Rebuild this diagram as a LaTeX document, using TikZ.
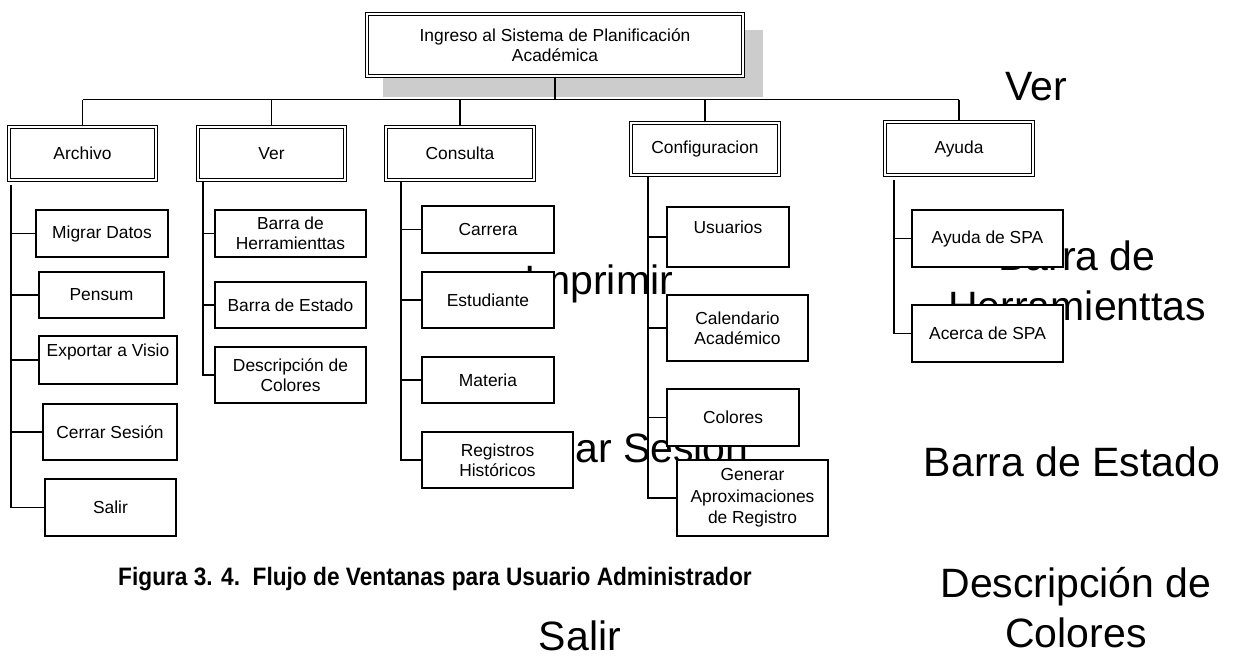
\documentclass[tikz,border=0pt]{standalone}
\usepackage{fontspec}
\setmainfont{Liberation Sans}
\newfontfamily\capfont[FakeStretch=0.9]{Liberation Sans}
\usetikzlibrary{positioning}

\tikzset{
  item/.style={draw, fill=white, line width=.55pt, inner sep=0pt, align=center,
    font=\fontsize{8.7}{10}\selectfont},
  menu/.style={item, double, double distance=.75pt},
  boxsize/.style 2 args={minimum width=#1*.5pt, minimum height=#2*.5pt},
  ghost/.style={inner sep=0pt, align=center, font=\fontsize{20.5}{25}\selectfont},
  link/.style={line width=.55pt}
}

\begin{document}
\begin{tikzpicture}[x=.5pt, y=-.5pt]
\useasboundingbox (0,0) rectangle (1237,664);

\node[fill=black!20, inner sep=0pt, boxsize={380}{67}] (shadow) at (573,63.5) {};

\node[ghost, anchor=base] (gver) at (1036,100) {Ver};
\node[ghost, anchor=base] (gimprimir) at (599,294) {Imprimir};
\node[ghost] (gherram) at (1077,281) {Barra de\\Herramienttas};
\node[ghost, anchor=base] (gcerrar) at (622,462) {Cerrar Sesión};
\node[ghost, anchor=base] (gestado) at (1072,476) {Barra de Estado};
\node[ghost] (gdescr) at (1076,608) {Descripción de\\Colores};
\node[ghost, anchor=base] (gsalir) at (580,650) {Salir};

\node[menu, boxsize={376}{62}] (ingreso) at (555,45) {Ingreso al Sistema de Planificación\\Académica};

\node[menu, boxsize={147}{53}] (archivo) at (82.5,153.5) {Archivo};
\node[menu, boxsize={147}{53}] (ver) at (271.5,153.5) {Ver};
\node[menu, boxsize={148}{53}] (consulta) at (460,153.5) {Consulta};
\node[menu, boxsize={148}{52}] (config) at (705,149) {Configuracion};
\node[menu, boxsize={148}{53}] (ayuda) at (959,148.5) {Ayuda};

\draw[link] (ingreso.south) -- ++(0,23) coordinate (hub);
\draw[link] (archivo.north |- hub) -- (ayuda.north |- hub);
\foreach \m in {archivo,ver,consulta,config,ayuda}
  \draw[link] (\m.north) -- (\m.north |- hub);

\coordinate (t1) at (11,185);
\coordinate (t2) at (203,182);
\coordinate (t3) at (401,182);
\coordinate (t4) at (648,177);
\coordinate (t5) at (894,180);

\node[item, boxsize={132}{47}] (migrar) at (102,233.5) {Migrar Datos};
\node[item, boxsize={125}{46}] (pensum) at (101.5,295) {Pensum};
\node[item, boxsize={138}{48}] (exportar) at (108,360) {Exportar a Visio\\\mbox{}};
\node[item, boxsize={134}{56}] (cerrar) at (110,432) {Cerrar Sesión};
\node[item, boxsize={131}{57}] (salir) at (110.5,507.5) {Salir};

\node[item, boxsize={151}{47}] (herram) at (290.5,233.5) {Barra de\\Herramienttas};
\node[item, boxsize={151}{46}] (estado) at (290.5,305) {Barra de Estado};
\node[item, boxsize={151}{56}] (descr) at (290.5,375) {Descripción de\\Colores};

\node[item, boxsize={132}{47}] (carrera) at (488,229.5) {Carrera};
\node[item, boxsize={132}{56}] (estudiante) at (488,300) {Estudiante};
\node[item, boxsize={132}{46}] (materia) at (488,380) {Materia};
\node[item, boxsize={151}{56}] (registros) at (497.5,460) {Registros\\Históricos};

\node[item, boxsize={122}{60}] (usuarios) at (728,237) {Usuarios\\\mbox{}};
\node[item, boxsize={141}{66}] (calendario) at (737.5,328) {Calendario\\Académico};
\node[item, boxsize={132}{57}] (colores) at (733,417.5) {Colores};
\node[item, boxsize={151}{76}, font=\fontsize{8.7}{10.8}\selectfont] (generar) at (752.5,498) {Generar\\Aproximaciones\\de Registro};

\node[item, boxsize={151}{57}] (ayudaspa) at (987.5,238.5) {Ayuda de SPA};
\node[item, boxsize={151}{57}] (acerca) at (987.5,333.5) {Acerca de SPA};

\draw[link] (t1) |- (salir.west);
\foreach \c in {migrar,pensum,exportar,cerrar}
  \draw[link] (\c.west) -- (\c.west -| t1);
\draw[link] (t2) |- (descr.west);
\foreach \c in {herram,estado}
  \draw[link] (\c.west) -- (\c.west -| t2);
\draw[link] (t3) |- (registros.west);
\foreach \c in {carrera,estudiante,materia}
  \draw[link] (\c.west) -- (\c.west -| t3);
\draw[link] (t4) |- (generar.west);
\foreach \c in {usuarios,calendario,colores}
  \draw[link] (\c.west) -- (\c.west -| t4);
\draw[link] (t5) |- (acerca.west);
\draw[link] (ayudaspa.west) -- (ayudaspa.west -| t5);

\node[font=\capfont\bfseries\fontsize{12.6}{14}\selectfont, inner sep=0pt] (caption) at (435,579)
  {Figura 3. 4.\ \ Flujo de Ventanas para Usuario Administrador};
\end{tikzpicture}
\end{document}
